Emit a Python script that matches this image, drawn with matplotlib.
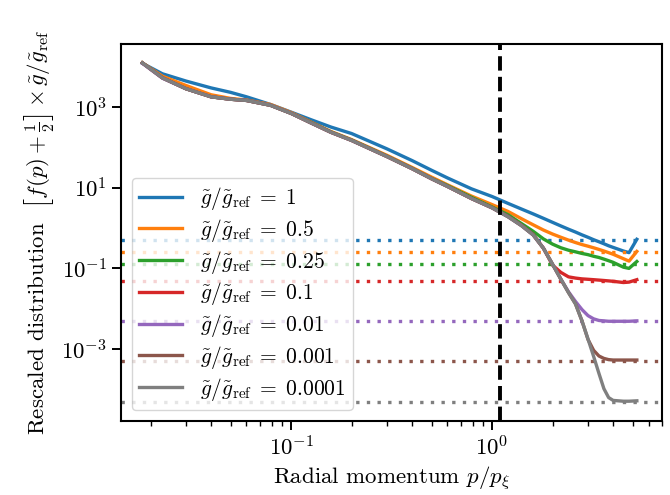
import numpy as np
import matplotlib
matplotlib.use('Agg')
import matplotlib.pyplot as plt
from matplotlib.ticker import NullLocator

# ------------------------------------------------------------
# 数据：p/p_xi 与各曲线的 log10(纵轴值)
# ------------------------------------------------------------
p = [0.0182, 0.0229, 0.030, 0.040, 0.050, 0.060, 0.079, 0.10, 0.126, 0.158,
     0.20, 0.30, 0.40, 0.50, 0.60, 0.79, 1.0, 1.2, 1.4, 1.6,
     1.8, 2.0, 2.2, 2.4, 2.6, 2.8, 3.0, 3.2, 3.4, 3.6,
     3.8, 4.0, 4.5, 4.8, 5.25]

log_g1 = [4.08, 3.82, 3.64, 3.47, 3.36, 3.25, 3.06, 2.87, 2.68, 2.50,
          2.34, 1.96, 1.67, 1.43, 1.24, 0.97, 0.78, 0.61, 0.47, 0.35,
          0.24, 0.14, 0.05, -0.03, -0.10, -0.17, -0.23, -0.29, -0.34, -0.39,
          -0.44, -0.48, -0.57, -0.61, -0.28]
log_g05 = [4.09, 3.76, 3.53, 3.30, 3.21, 3.17, 3.06, 2.86, 2.62, 2.39,
           2.19, 1.80, 1.50, 1.26, 1.07, 0.79, 0.58, 0.41, 0.23, 0.08,
           -0.05, -0.15, -0.23, -0.30, -0.36, -0.41, -0.45, -0.49, -0.53, -0.57,
           -0.61, -0.65, -0.76, -0.82, -0.58]
log_g025 = [4.09, 3.72, 3.45, 3.25, 3.19, 3.16, 3.04, 2.84, 2.61, 2.38,
            2.18, 1.78, 1.48, 1.23, 1.05, 0.76, 0.52, 0.33, 0.11, -0.08,
            -0.27, -0.40, -0.49, -0.55, -0.59, -0.63, -0.66, -0.70, -0.73, -0.77,
            -0.81, -0.85, -0.97, -1.00, -0.83]
log_g01 = [4.09, 3.72, 3.45, 3.25, 3.19, 3.16, 3.04, 2.84, 2.60, 2.37,
           2.17, 1.77, 1.47, 1.22, 1.03, 0.73, 0.50, 0.29, 0.07, -0.16,
           -0.50, -0.92, -1.10, -1.21, -1.24, -1.26, -1.27, -1.28, -1.29, -1.30,
           -1.31, -1.32, -1.35, -1.34, -1.28]
log_g001 = [4.08, 3.71, 3.45, 3.25, 3.19, 3.16, 3.04, 2.84, 2.60, 2.37,
            2.17, 1.77, 1.47, 1.22, 1.03, 0.73, 0.50, 0.28, 0.06, -0.17,
            -0.50, -0.90, -1.27, -1.58, -1.82, -2.02, -2.17, -2.25, -2.29, -2.30,
            -2.31, -2.31, -2.31, -2.31, -2.30]
log_g0001 = [4.09, 3.72, 3.45, 3.25, 3.19, 3.16, 3.04, 2.84, 2.60, 2.37,
             2.17, 1.77, 1.47, 1.22, 1.03, 0.73, 0.50, 0.28, 0.06, -0.17,
             -0.50, -0.90, -1.27, -1.60, -1.88, -2.30, -2.76, -3.03, -3.17, -3.23,
             -3.26, -3.27, -3.27, -3.27, -3.27]
log_g00001 = [4.09, 3.72, 3.45, 3.25, 3.19, 3.16, 3.04, 2.84, 2.60, 2.37,
              2.17, 1.77, 1.47, 1.22, 1.03, 0.73, 0.50, 0.28, 0.06, -0.17,
              -0.50, -0.90, -1.27, -1.60, -1.88, -2.30, -2.75, -3.18, -3.60, -3.98,
              -4.20, -4.27, -4.29, -4.29, -4.28]

g_ratios = ['1', '0.5', '0.25', '0.1', '0.01', '0.001', '0.0001']
levels = [0.5, 0.25, 0.125, 0.05, 0.005, 0.0005, 0.00005]   # 虚线水平 g/2
colors = ['C0', 'C1', 'C2', 'C3', 'C4', 'C5', 'C7']
p_xi_line = 1.1

# ------------------------------------------------------------
# 样式
# ------------------------------------------------------------
plt.rcParams['font.family'] = 'serif'
plt.rcParams['font.serif'] = ['cmr10', 'DejaVu Serif']
plt.rcParams['mathtext.fontset'] = 'cm'
plt.rcParams['axes.formatter.use_mathtext'] = True
plt.rcParams['font.size'] = 16.5
plt.rcParams['axes.linewidth'] = 1.5

fig = plt.figure(figsize=(6.7, 4.95), dpi=100)
ax = fig.add_axes([0.1806, 0.1495, 0.988 - 0.1806, 0.911 - 0.1495])

series = [log_g1, log_g05, log_g025, log_g01, log_g001, log_g0001, log_g00001]
for logy, g, lvl, c in zip(series, g_ratios, levels, colors):
    ax.plot(p, 10 ** np.array(logy), color=c, lw=2.4,
            label=r'$\tilde{g}/\tilde{g}_\mathrm{ref}\;=\;%s$' % g)
    ax.axhline(lvl, color=c, lw=2.4, linestyle=(0, (1, 2.2)))

ax.axvline(p_xi_line, color='k', lw=2.8, linestyle='--')

ax.set_xscale('log')
ax.set_yscale('log')
ax.set_xlim(0.01425, 7.0)
ax.set_ylim(1.66e-5, 3.6e4)
ax.set_yticks([1e-3, 1e-1, 1e1, 1e3])
ax.yaxis.set_minor_locator(NullLocator())

ax.tick_params(which='major', length=6.5, width=1.4)
ax.tick_params(which='minor', length=3.6, width=1.0)

ax.set_xlabel(r'Radial momentum $p/p_\xi$')
ax.set_ylabel(r'Rescaled distribution  $\left[f(p)+\frac{1}{2}\right]\times\tilde{g}/\tilde{g}_\mathrm{ref}$')

ax.legend(loc='lower left', fontsize=15.5, handlelength=2.0, labelspacing=0.22,
          borderpad=0.35)

fig.savefig('out.png', dpi=100)
